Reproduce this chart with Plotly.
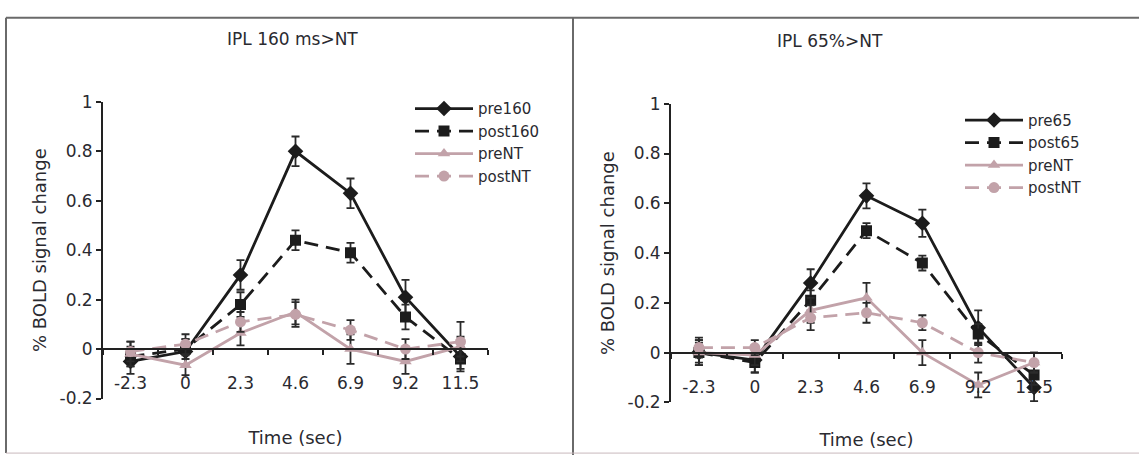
import plotly.graph_objects as go

# ---------------- data ----------------
time_labels = ["-2.3", "0", "2.3", "4.6", "6.9", "9.2", "11.5"]

# Left panel: IPL 160 ms>NT
pre160 = [-0.05, -0.01, 0.30, 0.80, 0.63, 0.21, -0.03]
pre160_err = [0.05, 0.05, 0.06, 0.06, 0.06, 0.07, 0.05]
post160 = [-0.03, 0.00, 0.18, 0.44, 0.39, 0.13, -0.04]
post160_err = [0.04, 0.04, 0.05, 0.04, 0.04, 0.05, 0.05]
preNT_l = [-0.02, -0.065, 0.065, 0.15, 0.00, -0.05, 0.01]
preNT_l_err = [0.05, 0.04, 0.05, 0.05, 0.06, 0.05, 0.04]
postNT_l = [-0.01, 0.02, 0.11, 0.14, 0.077, 0.00, 0.03]
postNT_l_err = [0.04, 0.04, 0.04, 0.05, 0.04, 0.04, 0.08]

# Right panel: IPL 65%>NT
pre65 = [0.00, -0.03, 0.28, 0.63, 0.52, 0.10, -0.14]
pre65_err = [0.05, 0.05, 0.055, 0.05, 0.055, 0.07, 0.055]
post65 = [0.00, -0.04, 0.21, 0.49, 0.36, 0.075, -0.09]
post65_err = [0.04, 0.04, 0.04, 0.03, 0.03, 0.04, 0.04]
preNT_r = [0.00, -0.01, 0.17, 0.22, 0.00, -0.13, -0.04]
preNT_r_err = [0.05, 0.04, 0.05, 0.06, 0.05, 0.05, 0.04]
postNT_r = [0.02, 0.02, 0.14, 0.16, 0.12, 0.00, -0.04]
postNT_r_err = [0.04, 0.03, 0.05, 0.04, 0.03, 0.04, 0.04]

y_ticks = [-0.2, 0, 0.2, 0.4, 0.6, 0.8, 1]
y_ticktext = ["-0.2", "0", "0.2", "0.4", "0.6", "0.8", "1"]

# ---------------- styling ----------------
W, H = 1139, 465
FONT = "DejaVu Sans"
BLACK = "#1c1c1c"
MAUVE = "#c2a2a9"
ERR = "#2a2a2a"
TXT = "#2a2a30"

xpos = list(range(len(time_labels)))
bounds = [i - 0.5 for i in range(len(time_labels) + 1)]


def px_x(p):
    return p / W


def px_y(p):
    return 1 - p / H


fig = go.Figure()


def add_series(y, err, name, color, symbol, dash, xa, ya, legend, msize):
    fig.add_trace(go.Scatter(
        x=xpos, y=y, name=name, mode="lines+markers",
        line=dict(color=color, width=2.8, dash=dash),
        marker=dict(color=color, symbol=symbol, size=msize),
        error_y=dict(type="data", array=err, color=ERR, thickness=1.8, width=4),
        xaxis=xa, yaxis=ya, legend=legend,
    ))


DASH = "14px,8px"
# left
add_series(pre160, pre160_err, "pre160", BLACK, "diamond", "solid", "x", "y", "legend", 12)
add_series(post160, post160_err, "post160", BLACK, "square", DASH, "x", "y", "legend", 11)
add_series(preNT_l, preNT_l_err, "preNT", MAUVE, "triangle-up", "solid", "x", "y", "legend", 11)
add_series(postNT_l, postNT_l_err, "postNT", MAUVE, "circle", DASH, "x", "y", "legend", 11)
# right
add_series(pre65, pre65_err, "pre65", BLACK, "diamond", "solid", "x2", "y2", "legend2", 12)
add_series(post65, post65_err, "post65", BLACK, "square", DASH, "x2", "y2", "legend2", 11)
add_series(preNT_r, preNT_r_err, "preNT", MAUVE, "triangle-up", "solid", "x2", "y2", "legend2", 11)
add_series(postNT_r, postNT_r_err, "postNT", MAUVE, "circle", DASH, "x2", "y2", "legend2", 11)

# panel geometry (pixels)
L = dict(x0=103, x1=488, ytop=96, ybot=406)
R = dict(x0=671, x1=1062, ytop=98, ybot=410)


def zero_pos(P):
    b, t = px_y(P["ybot"]), px_y(P["ytop"])
    return b + (0 - (-0.2)) / 1.2 * (t - b)


def xaxis_cfg(P, standoff):
    return dict(
        domain=[px_x(P["x0"]), px_x(P["x1"])],
        range=[-0.5, len(time_labels) - 0.5],
        tickmode="array", tickvals=xpos, ticktext=time_labels,
        ticks="", showgrid=False, zeroline=False,
        showline=True, linecolor="#222", linewidth=1.8,
        anchor="free", position=zero_pos(P),
        ticklabelstandoff=19,
        tickfont=dict(family=FONT, size=17, color=TXT),
        minor=dict(tickmode="array", tickvals=bounds, ticks="outside",
                   ticklen=5, tickcolor="#222", tickwidth=1.5, showgrid=False),
        title=dict(text="Time (sec)", font=dict(family=FONT, size=18, color=TXT),
                   standoff=standoff),
        fixedrange=True,
    )


def yaxis_cfg(P, xa):
    return dict(
        domain=[px_y(P["ybot"]), px_y(P["ytop"])],
        range=[-0.2, 1.0],
        tickmode="array", tickvals=y_ticks, ticktext=y_ticktext,
        ticks="outside", ticklen=5, tickcolor="#222", tickwidth=1.5,
        showgrid=False, zeroline=False,
        showline=True, linecolor="#222", linewidth=1.8,
        anchor=xa,
        tickfont=dict(family=FONT, size=17, color=TXT),
        title=dict(text="% BOLD signal change",
                   font=dict(family=FONT, size=18, color=TXT), standoff=8),
        fixedrange=True,
    )


legend_common = dict(
    font=dict(family=FONT, size=15, color=TXT),
    bgcolor="rgba(0,0,0,0)", itemwidth=58, tracegroupgap=0,
    xanchor="left", yanchor="top", itemclick=False, itemdoubleclick=False,
)

fig.update_layout(
    width=W, height=H, autosize=False,
    margin=dict(l=0, r=0, t=0, b=0),
    paper_bgcolor="white", plot_bgcolor="white",
    xaxis=xaxis_cfg(L, 38), yaxis=yaxis_cfg(L, "x"),
    xaxis2=xaxis_cfg(R, 36), yaxis2=yaxis_cfg(R, "x2"),
    legend=dict(x=px_x(410), y=px_y(86), **legend_common),
    legend2=dict(x=px_x(960), y=px_y(98), **legend_common),
    showlegend=True,
    annotations=[
        dict(text="IPL 160 ms>NT", x=px_x(292), y=px_y(30), xref="paper", yref="paper",
             xanchor="center", yanchor="middle",
             showarrow=False, font=dict(family=FONT, size=17, color=TXT)),
        dict(text="IPL 65%>NT", x=px_x(830), y=px_y(32), xref="paper", yref="paper",
             xanchor="center", yanchor="middle",
             showarrow=False, font=dict(family=FONT, size=17, color=TXT)),
    ],
    shapes=[
        dict(type="line", xref="paper", yref="paper", x0=px_x(6), x1=1, y0=px_y(8), y1=px_y(8),
             line=dict(color="#6a6a6a", width=2)),
        dict(type="line", xref="paper", yref="paper", x0=px_x(6), x1=px_x(6), y0=px_y(8), y1=px_y(463),
             line=dict(color="#6a6a6a", width=2)),
        dict(type="line", xref="paper", yref="paper", x0=px_x(573), x1=px_x(573), y0=px_y(8), y1=px_y(465),
             line=dict(color="#6a6a6a", width=2)),
        dict(type="line", xref="paper", yref="paper", x0=px_x(6), x1=1, y0=px_y(463), y1=px_y(463),
             line=dict(color="#c8b8bc", width=1)),
    ],
)

fig.write_html("out.html")
